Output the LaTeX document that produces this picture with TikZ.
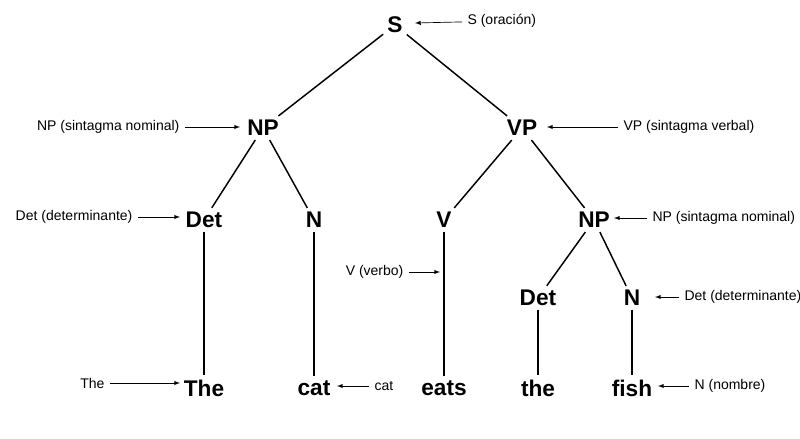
\documentclass[tikz,border=0pt]{standalone}
\usepackage{fontspec}
\setmainfont{Liberation Sans}
\begin{document}
\begin{tikzpicture}[x=0.75pt,y=-0.75pt,
  t/.style={font=\fontsize{17}{19}\selectfont\bfseries,inner sep=3pt},
  a/.style={font=\fontsize{10.5}{12}\selectfont,inner sep=4pt},
  e/.style={line width=1.1pt},
  ar/.style={-latex,line width=0.5pt}]
\useasboundingbox (0,0) rectangle (800,439);
\node[t] (S) at (395,25) {S};
\node[t] (NP) at (263,128) {NP};
\node[t] (VP) at (522,128) {VP};
\node[t] (Det) at (204,220) {Det};
\node[t] (N) at (314,220) {N};
\node[t] (V) at (444,220) {V};
\node[t] (NP2) at (594,220) {NP};
\node[t] (Det2) at (538,298) {Det};
\node[t] (N2) at (632,298) {N};
\node[t] (The) at (204,388) {The};
\node[t] (cat) at (314,388) {cat};
\node[t] (eats) at (444,388) {eats};
\node[t] (the) at (538,388) {the};
\node[t] (fish) at (632,388) {fish};
\draw[e] (S) -- (NP); \draw[e] (S) -- (VP);
\draw[e] (NP) -- (Det); \draw[e] (NP) -- (N);
\draw[e] (VP) -- (V); \draw[e] (VP) -- (NP2);
\draw[e] (NP2) -- (Det2); \draw[e] (NP2) -- (N2);
\draw[e] (Det) -- (The); \draw[e] (N) -- (cat); \draw[e] (V) -- (eats);
\draw[e] (Det2) -- (the); \draw[e] (N2) -- (fish);
\node[a,anchor=west] (aS) at (462,21) {S (oración)};
\coordinate (cS) at (415,23); \draw[ar] (aS) -- (cS);
\node[a,anchor=east] (aNP) at (185,127) {NP (sintagma nominal)};
\coordinate (cNP) at (240,127); \draw[ar] (aNP) -- (cNP);
\node[a,anchor=west] (aVP) at (618,127) {VP (sintagma verbal)};
\coordinate (cVP) at (547,127); \draw[ar] (aVP) -- (cVP);
\node[a,anchor=east] (aDet) at (138,217) {Det (determinante)};
\coordinate (cDet) at (180,217); \draw[ar] (aDet) -- (cDet);
\node[a,anchor=west] (aNP2) at (647,218) {NP (sintagma nominal)};
\coordinate (cNP2) at (614,218); \draw[ar] (aNP2) -- (cNP2);
\node[a,anchor=east] (aV) at (409,272) {V (verbo)};
\coordinate (cV) at (440,272); \draw[ar] (aV) -- (cV);
\node[a,anchor=west] (aDet2) at (679,297) {Det (determinante)};
\coordinate (cDet2) at (655,297); \draw[ar] (aDet2) -- (cDet2);
\node[a,anchor=east] (aThe) at (110,383) {The};
\coordinate (cThe) at (180,383); \draw[ar] (aThe) -- (cThe);
\node[a,anchor=west] (acat) at (369,386) {cat};
\coordinate (ccat) at (337,386); \draw[ar] (acat) -- (ccat);
\node[a,anchor=west] (afish) at (689,386) {N (nombre)};
\coordinate (cfish) at (658,386); \draw[ar] (afish) -- (cfish);
\end{tikzpicture}
\end{document}
